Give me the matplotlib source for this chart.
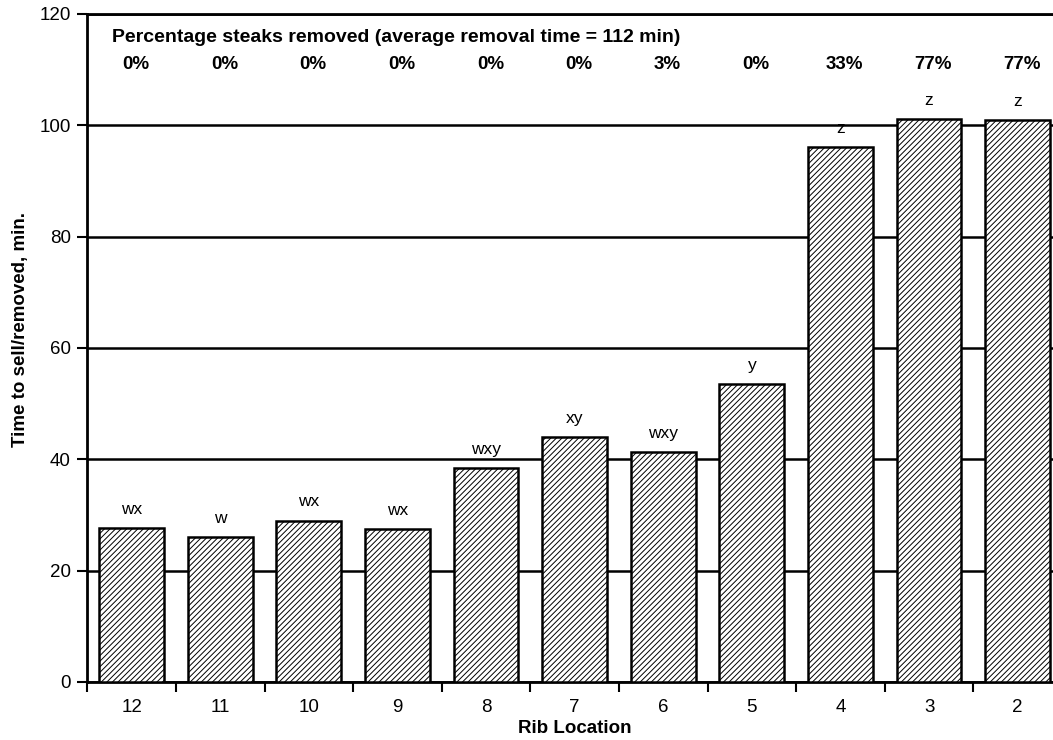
import matplotlib
matplotlib.use("Agg")
import matplotlib.pyplot as plt
import numpy as np

plt.rcParams['font.family'] = ['Liberation Sans', 'DejaVu Sans']
plt.rcParams['hatch.linewidth'] = 0.7

# rib locations, mean time to sell/removed (min), letters and % removed
ribs = ['12', '11', '10', '9', '8', '7', '6', '5', '4', '3', '2']
times = [27.6, 26.0, 29.0, 27.4, 38.5, 44.0, 41.3, 53.5, 96.1, 101.2, 100.9]
letters = ['wx', 'w', 'wx', 'wx', 'wxy', 'xy', 'wxy', 'y', 'z', 'z', 'z']
pct_removed = ['0%', '0%', '0%', '0%', '0%', '0%', '3%', '0%', '33%', '77%', '77%']

fig = plt.figure(figsize=(10.53, 7.4), dpi=100)
ax = fig.add_axes([0.0829, 0.0784, 0.9256, 0.9027])

x = np.arange(len(ribs))
ax.bar(x, times, width=0.73, color='white', edgecolor='black', linewidth=1.8,
       hatch='//////', zorder=3)

for xi, t, lab in zip(x, times, letters):
    ax.text(xi, t + 2.0, lab, ha='center', va='bottom', fontsize=12.5, zorder=4)

for xi, p in zip(x, pct_removed):
    ax.text(xi + 0.05, 111, p, ha='center', va='center', fontsize=13.5,
            fontweight='bold')
ax.text(-0.225, 115.8, 'Percentage steaks removed (average removal time = 112 min)',
        ha='left', va='center', fontsize=14, fontweight='bold')

ax.set_xlim(-0.5, len(ribs) - 0.5)
ax.set_ylim(0, 120)
ax.set_yticks(np.arange(0, 121, 20))
ax.yaxis.grid(True, color='black', linewidth=1.8, zorder=0)
ax.set_axisbelow(True)

# ticks between categories, labels at category centres
ax.set_xticks(np.arange(len(ribs) + 1) - 0.5)
ax.set_xticklabels([])
ax.set_xticks(x, minor=True)
ax.set_xticklabels(ribs, minor=True)
ax.tick_params(axis='x', which='major', direction='out', length=7, width=1.5)
ax.tick_params(axis='x', which='minor', length=0, pad=12, labelsize=13.5)
ax.tick_params(axis='y', direction='out', length=7, width=1.5, pad=5, labelsize=13.5)

for s in ax.spines.values():
    s.set_linewidth(2)

ax.set_ylabel('Time to sell/removed, min.', fontsize=13.5, fontweight='bold',
              va='center')
ax.yaxis.set_label_coords(-0.069, 0.527)
ax.set_xlabel('Rib Location', fontsize=13.5, fontweight='bold', va='center')
ax.xaxis.set_label_coords(0.5, -0.069)

fig.savefig('out.png', dpi=100)
